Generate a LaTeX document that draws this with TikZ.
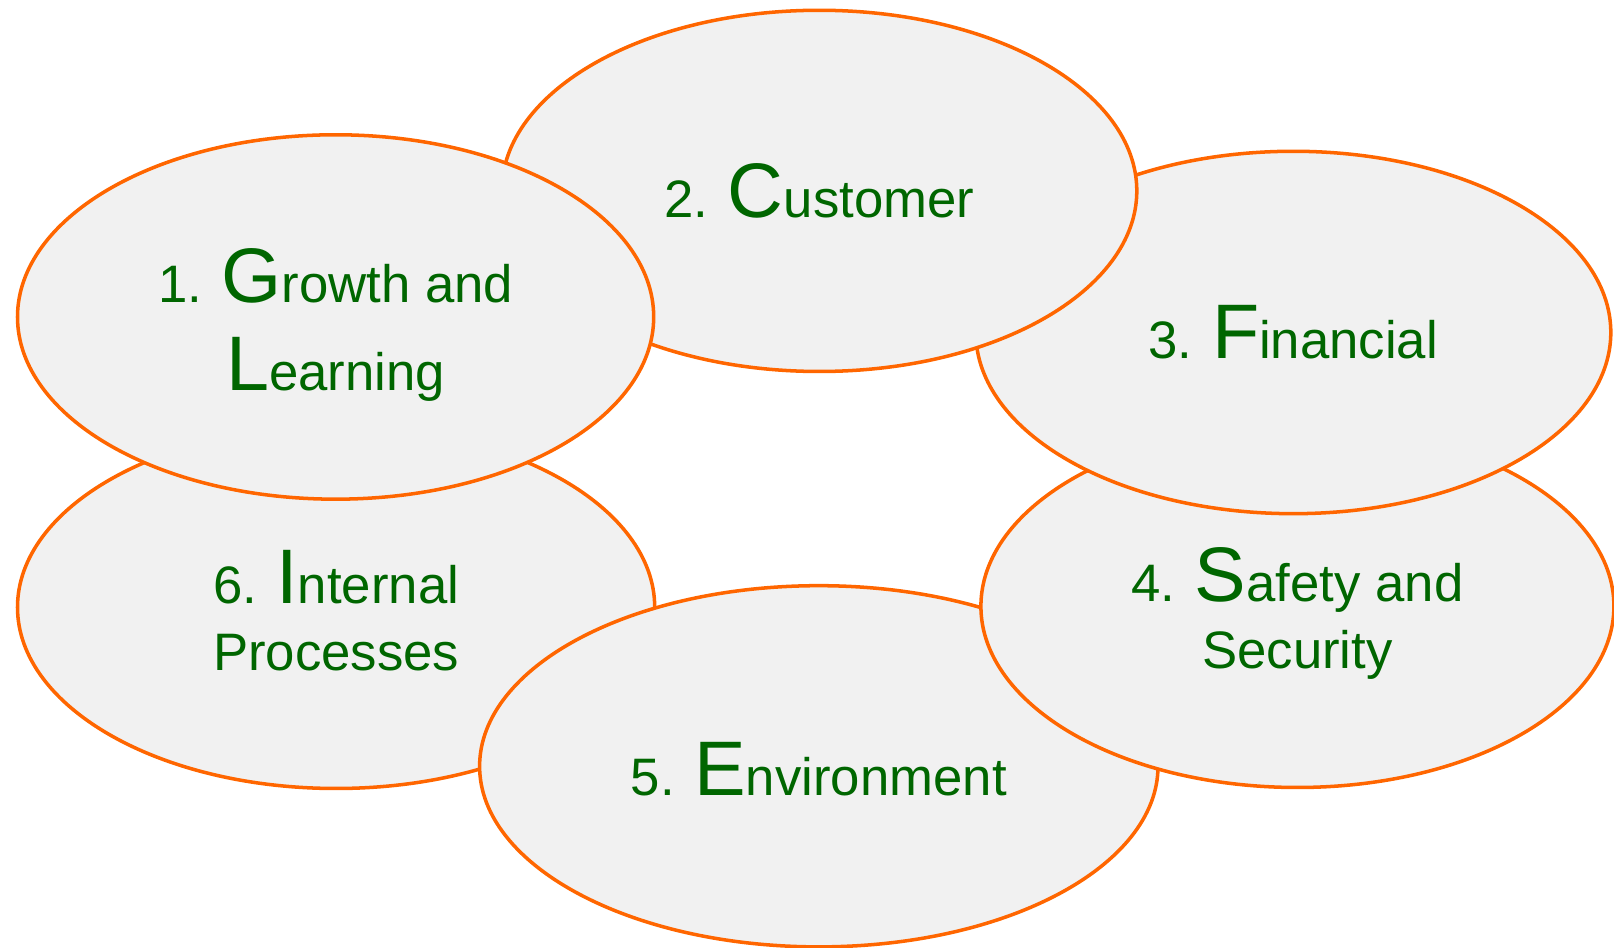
\documentclass[tikz,border=0pt]{standalone}
\usepackage{fontspec}
\setmainfont{Liberation Sans}
\usepackage{xcolor}
\definecolor{rimorange}{HTML}{FF6600}
\definecolor{petalgray}{HTML}{F1F1F1}
\definecolor{leafgreen}{HTML}{006600}
\usepackage{tikz}
\usetikzlibrary{shapes.geometric}
% first letter of each perspective is set larger
\newcommand{\initial}[1]{{\fontsize{22}{26}\selectfont #1}}

\begin{document}
\begin{tikzpicture}[
  petal/.style={ellipse, draw=rimorange, line width=1pt, fill=petalgray,
    inner sep=0pt, outer sep=0pt},
  caption/.style={align=center, text=leafgreen, inner sep=0pt,
    font=\fontsize{15}{19}\selectfont}]
\useasboundingbox (0,0) rectangle (16.14,9.48);

% drawn back to front, so each one overlaps the previous
\node[petal, minimum width=6.372cm, minimum height=3.624cm] (internal) at (3.361,3.407) {};
\node[caption] (internal-txt) at ([yshift=-.03cm]internal.center) {6. \initial{I}nternal\\Processes};

\node[petal, minimum width=6.784cm, minimum height=3.612cm] (environ) at (8.188,1.817) {};
\node[caption] (environ-txt) at ([yshift=-.03cm]environ.center) {5. \initial{E}nvironment};

\node[petal, minimum width=6.33cm, minimum height=3.624cm] (safety) at (12.974,3.417) {};
\node[caption] (safety-txt) at ([yshift=-.075cm]safety.center) {4. \initial{S}afety and\\Security};

\node[petal, minimum width=6.35cm, minimum height=3.624cm] (financial) at (12.933,6.155) {};
\node[caption] (financial-txt) at (financial.center) {3. \initial{F}inancial};

\node[petal, minimum width=6.35cm, minimum height=3.612cm] (customer) at (8.193,7.571) {};
\node[caption] (customer-txt) at (customer.center) {2. \initial{C}ustomer};

\node[petal, minimum width=6.362cm, minimum height=3.644cm] (growth) at (3.356,6.310) {};
\node[caption] (growth-txt) at ([yshift=-.08cm]growth.center) {1. \initial{G}rowth and\\[6pt]\initial{L}earning};
\end{tikzpicture}
\end{document}
